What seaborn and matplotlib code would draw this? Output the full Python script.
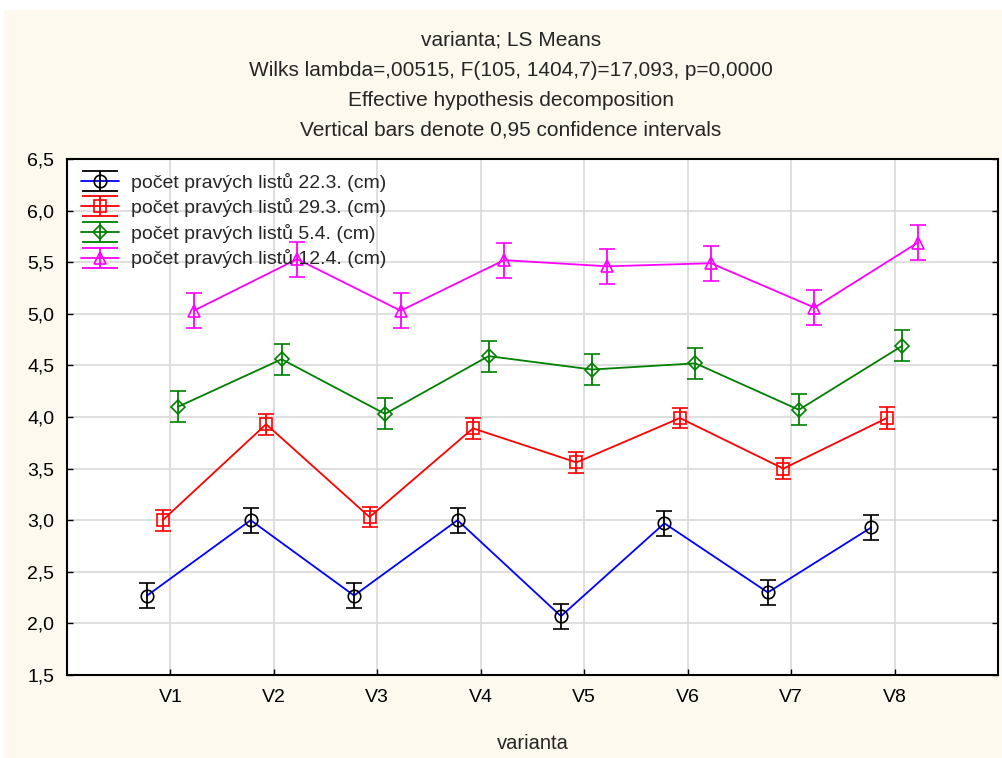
import matplotlib
matplotlib.use("Agg")
import matplotlib.pyplot as plt
from matplotlib.lines import Line2D
from matplotlib.legend_handler import HandlerTuple
from matplotlib.patches import Rectangle
from matplotlib.path import Path
from matplotlib.ticker import FuncFormatter, MultipleLocator
import seaborn as sns
import numpy as np

# data
variants = ["V1", "V2", "V3", "V4", "V5", "V6", "V7", "V8"]
series_names = [
    "počet pravých listů 22.3. (cm)",
    "počet pravých listů 29.3. (cm)",
    "počet pravých listů 5.4. (cm)",
    "počet pravých listů 12.4. (cm)",
]
means_223 = [2.27, 3.00, 2.27, 3.00, 2.07, 2.97, 2.30, 2.93]
means_293 = [3.00, 3.93, 3.03, 3.89, 3.56, 3.99, 3.50, 3.99]
means_54 = [4.10, 4.56, 4.03, 4.59, 4.46, 4.52, 4.07, 4.69]
means_124 = [5.03, 5.53, 5.03, 5.52, 5.46, 5.49, 5.06, 5.69]
ci_223 = [0.12, 0.12, 0.12, 0.12, 0.12, 0.12, 0.12, 0.12]
ci_293 = [0.10, 0.10, 0.10, 0.10, 0.10, 0.10, 0.10, 0.11]
ci_54 = [0.15, 0.15, 0.15, 0.15, 0.15, 0.15, 0.15, 0.15]
ci_124 = [0.17, 0.17, 0.17, 0.17, 0.17, 0.17, 0.17, 0.17]

means = [means_223, means_293, means_54, means_124]
cis = [ci_223, ci_293, ci_54, ci_124]

# styling
line_colors = ["#0000ff", "#ff0000", "#008000", "#ff00ff"]
marker_colors = ["#000000", "#ff0000", "#008000", "#ff00ff"]
markers = ["o", "s", "D", "^"]
marker_sizes = [9, 9, 7, 9]
offsets = [-0.225, -0.075, 0.075, 0.225]
cream = "#fdf9ee"

# "I" shaped marker for the legend error bar (wide caps like the original)
ibar = Path([(-0.9, 0.5), (0.9, 0.5), (0, 0.5), (0, -0.5), (-0.9, -0.5), (0.9, -0.5)],
            [Path.MOVETO, Path.LINETO, Path.MOVETO, Path.LINETO, Path.MOVETO, Path.LINETO])

sns.set_theme(style="whitegrid")
plt.rcParams["font.family"] = ["Liberation Sans", "DejaVu Sans"]

fig = plt.figure(figsize=(10.03, 7.58), dpi=100)
fig.patch.set_facecolor("white")
fig.patches.append(Rectangle((4 / 1003, 0), 1, 1 - 10 / 758,
                             transform=fig.transFigure, facecolor=cream,
                             edgecolor="none", zorder=-10))
ax = fig.add_axes([67 / 1003, 1 - 675 / 758, (998 - 67) / 1003, (675 - 159) / 758])
ax.set_facecolor("white")

pos = np.arange(len(variants))
handles = []
for i in range(4):
    x = pos + offsets[i]
    sns.lineplot(x=x, y=means[i], color=line_colors[i], lw=1.3, ax=ax,
                 legend=False, zorder=3)
    ax.errorbar(x, means[i], yerr=cis[i], fmt=markers[i], ms=marker_sizes[i],
                mfc="none", mec=marker_colors[i], mew=1.2,
                ecolor=marker_colors[i], elinewidth=1.3, capsize=5.5,
                capthick=1.3, zorder=4)
    hl = Line2D([], [], color=line_colors[i], lw=1.3)
    hb = Line2D([], [], color=marker_colors[i], marker=ibar, ms=26, mew=1.3,
                mfc="none", linestyle="none")
    hm = Line2D([], [], color=marker_colors[i], marker=markers[i], ms=marker_sizes[i],
                mfc="none", mew=1.2, linestyle="none")
    handles.append((hl, hb, hm))

ax.legend(handles, series_names, handler_map={tuple: HandlerTuple(ndivide=1)},
          loc="upper left", bbox_to_anchor=(0.0, 1.0), frameon=False,
          fontsize=14, handlelength=1.95, handletextpad=0.65,
          labelspacing=0.34, borderaxespad=0.3)

ax.set_xlim(-1, 8)
ax.set_ylim(1.5, 6.5)
ax.set_xticks(pos)
ax.set_xticklabels(variants)
ax.yaxis.set_major_locator(MultipleLocator(0.5))
ax.yaxis.set_major_formatter(FuncFormatter(lambda v, p: f"{v:.1f}".replace(".", ",")))
ax.grid(True, color="#d9d9d9", lw=1.2)
for s in ax.spines.values():
    s.set_color("black")
    s.set_linewidth(1.5)
ax.tick_params(axis="both", direction="in", length=4, width=1, color="black",
               labelsize=14, labelcolor="black")
ax.tick_params(axis="y", right=True, left=True, pad=9)
ax.tick_params(axis="x", bottom=True, pad=10)
ax.set_xlabel("varianta", fontsize=14.5, labelpad=20)

title_lines = [
    "varianta; LS Means",
    "Wilks lambda=,00515, F(105, 1404,7)=17,093, p=0,0000",
    "Effective hypothesis decomposition",
    "Vertical bars denote 0,95 confidence intervals",
]
for k, t in enumerate(title_lines):
    fig.text(511 / 1003, 1 - (40 + 30 * k) / 758, t, ha="center", va="center",
             fontsize=15)

plt.savefig("out.png", dpi=100, facecolor=fig.get_facecolor())
